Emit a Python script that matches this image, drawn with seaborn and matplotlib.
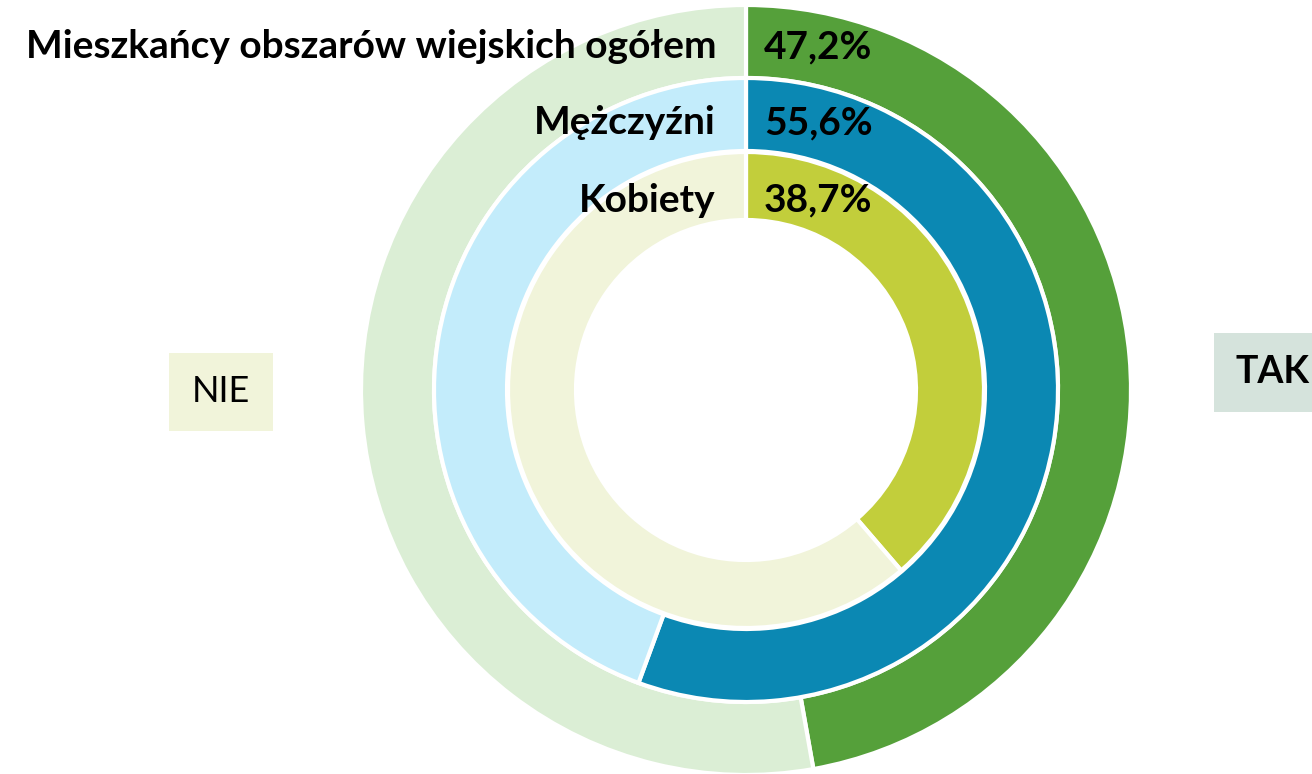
import matplotlib.pyplot as plt
import seaborn as sns

# data
rings = ["Mieszkańcy obszarów wiejskich ogółem", "Mężczyźni", "Kobiety"]
tak = [47.2, 55.6, 38.7]
nie = [100 - v for v in tak]
tak_labels = ["47,2%", "55,6%", "38,7%"]
tak_colors = ["#55A03A", "#0B88B3", "#C2CE3B"]
nie_colors = ["#DBEED5", "#C3ECFB", "#F1F4DA"]

sns.set_theme(style="white")
plt.rcParams['font.family'] = ['Lato', 'DejaVu Sans']

W, H = 1312, 774
fig = plt.figure(figsize=(W / 100, H / 100), dpi=100)
ax = fig.add_axes([0, 0, 1, 1])

cx, cy = 746, H - 390
radii = [385, 312, 238]
width = 73

for i in range(3):
    w = width if i < 2 else 68
    ax.pie([tak[i], nie[i]], colors=[tak_colors[i], nie_colors[i]],
           startangle=90, counterclock=False, center=(cx, cy), radius=radii[i],
           wedgeprops=dict(width=w, edgecolor="white", linewidth=3))

ax.set_xlim(0, W)
ax.set_ylim(0, H)
ax.set_aspect("equal")
ax.axis("off")

label_y = [47, 123, 200]
for i in range(3):
    ax.text(716, H - label_y[i], rings[i], ha="right", va="center",
            fontsize=28, fontweight="bold", color="black")
    ax.text(764, H - label_y[i], tak_labels[i], ha="left", va="center",
            fontsize=28, fontweight="bold", color="black")

ax.text(221, H - 392, "NIE", ha="center", va="center", fontsize=26,
        color="black",
        bbox=dict(boxstyle="square,pad=0.62", facecolor="#F1F4DA", edgecolor="none"))
ax.text(1236, H - 372, "TAK", ha="left", va="center", fontsize=27,
        fontweight="bold", color="black",
        bbox=dict(boxstyle="square,pad=0.6", facecolor="#D5E3DC", edgecolor="none"))

fig.savefig("out.png", dpi=100)
